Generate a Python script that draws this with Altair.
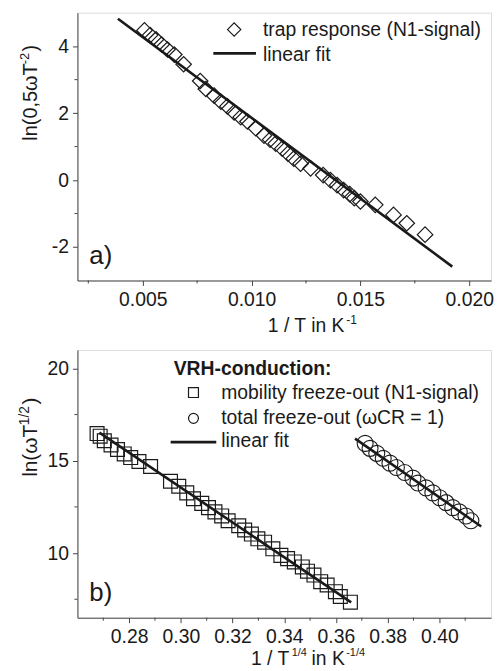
import altair as alt
import pandas as pd

FONT = "Liberation Sans"
INK = "#1a1a1a"
FRAME = "#444444"
FS = 19.5

# ---------------- panel a) data ----------------
a_x = [0.00508, 0.00534, 0.00561, 0.00587, 0.00614, 0.00645, 0.00688, 0.00764, 0.00790,
       0.00828, 0.00859, 0.00889, 0.00920, 0.00950, 0.00981, 0.01019, 0.01057, 0.01085,
       0.01111, 0.01141, 0.01167, 0.01194, 0.01225, 0.01271, 0.01329, 0.01362, 0.01393,
       0.01423, 0.01451, 0.01472, 0.01500, 0.01568, 0.01652, 0.01713, 0.01797]
a_y = [4.47, 4.33, 4.20, 4.05, 3.90, 3.75, 3.46, 2.96, 2.72,
       2.52, 2.34, 2.20, 2.02, 1.88, 1.75, 1.55, 1.33, 1.21,
       1.09, 0.94, 0.79, 0.64, 0.49, 0.35, 0.15, 0.00, -0.15,
       -0.30, -0.42, -0.54, -0.64, -0.74, -1.04, -1.29, -1.63]
a_fit_x = [0.00386, 0.01922]
a_fit_y = [4.82, -2.585]
a_xticks = [0.005, 0.010, 0.015, 0.020]
a_xminor = [0.0025, 0.0075, 0.0125, 0.0175]
a_yticks = [-2, 0, 2, 4]
a_yminor = [-1, 1, 3]

# ---------------- panel b) data ----------------
b_sq_x = [0.2676, 0.2688, 0.2704, 0.2730, 0.2755, 0.2781, 0.2806, 0.2838, 0.2883, 0.2960,
          0.2992, 0.3023, 0.3049, 0.3081, 0.3107, 0.3132, 0.3158, 0.3183, 0.3224, 0.3247,
          0.3273, 0.3298, 0.3324, 0.3356, 0.3387, 0.3413, 0.3439, 0.3470, 0.3490, 0.3515,
          0.3541, 0.3566, 0.3598, 0.3617, 0.3656]
b_sq_y = [16.47, 16.33, 16.08, 15.85, 15.61, 15.37, 15.17, 14.96, 14.69, 13.89,
          13.62, 13.26, 12.94, 12.69, 12.46, 12.23, 12.01, 11.75, 11.48, 11.25,
          11.03, 10.77, 10.59, 10.23, 9.875, 9.70, 9.52, 9.25, 9.02, 8.81,
          8.45, 8.27, 7.91, 7.65, 7.34]
b_ci_x = [0.3713, 0.3732, 0.3758, 0.3783, 0.3809, 0.3834, 0.3866, 0.3898, 0.3917,
          0.3949, 0.3975, 0.4001, 0.4026, 0.4052, 0.4077, 0.4103, 0.4122]
b_ci_y = [15.94, 15.67, 15.40, 15.13, 14.87, 14.63, 14.36, 14.06, 13.79,
          13.53, 13.26, 13.00, 12.73, 12.46, 12.23, 12.01, 11.75]
b_fit1_x = [0.2685, 0.3659]
b_fit1_y = [16.52, 7.33]
b_fit2_x = [0.3674, 0.4162]
b_fit2_y = [16.20, 11.44]
b_xticks = [0.28, 0.30, 0.32, 0.34, 0.36, 0.38, 0.40]
b_xminor = [0.27, 0.29, 0.31, 0.33, 0.35, 0.37, 0.39, 0.41]
b_yticks = [10, 15, 20]
b_yminor = [7.5, 12.5, 17.5]

W, H = 417, 270
one = pd.DataFrame({"t": [""]})


def label(txt, x, y, size=FS, angle=0, weight="normal"):
    return alt.Chart(pd.DataFrame({"t": [txt]})).mark_text(
        font=FONT, fontSize=size, angle=angle, fontWeight=weight,
        align="left", baseline="alphabetic", color=INK
    ).encode(text="t:N", x=alt.value(x), y=alt.value(y))


def sym(shape, x, y, size):
    return alt.Chart(one).mark_point(
        shape=shape, size=size, filled=False, stroke=INK, strokeWidth=1.2, opacity=1
    ).encode(x=alt.value(x), y=alt.value(y))


def legline(x1, x2, y):
    return alt.Chart(one).mark_rule(color=INK, strokeWidth=2.6).encode(
        x=alt.value(x1), x2=alt.value(x2), y=alt.value(y))


def encs(xdom, ydom, xticks, yticks, xexpr):
    xe = alt.X("x:Q", scale=alt.Scale(domain=xdom, nice=False, zero=False),
               axis=alt.Axis(values=xticks, labelExpr=xexpr, title=None, grid=False,
                             tickSize=5, labelPadding=5, labelFont=FONT, labelFontSize=FS,
                             labelColor=INK, tickColor=FRAME, domainColor=FRAME))
    ye = alt.Y("y:Q", scale=alt.Scale(domain=ydom, nice=False, zero=False),
               axis=alt.Axis(values=yticks, labelExpr="'' + datum.value", title=None,
                             grid=False, tickSize=5, labelPadding=4, labelFont=FONT,
                             labelFontSize=FS, labelColor=INK, tickColor=FRAME,
                             domainColor=FRAME))
    return xe, ye


def minor(xe, ye, xminor, yminor):
    mx = alt.Chart(pd.DataFrame({"x": xminor})).mark_rule(color=FRAME).encode(
        x=xe, y=alt.value(H), y2=alt.value(H + 3))
    my = alt.Chart(pd.DataFrame({"y": yminor})).mark_rule(color=FRAME).encode(
        y=ye, x=alt.value(0), x2=alt.value(-3))
    return mx, my


# ---------- panel a ----------
xa, ya = encs([0.002, 0.021], [-3, 5], a_xticks, a_yticks, "format(datum.value, '.3f')")
pts_a = alt.Chart(pd.DataFrame({"x": a_x, "y": a_y})).mark_point(
    shape="diamond", size=245, filled=False, stroke=INK, strokeWidth=1.2, opacity=1
).encode(x=xa, y=ya)
fit_a = alt.Chart(pd.DataFrame({"x": a_fit_x, "y": a_fit_y})).mark_line(
    color=INK, strokeWidth=2.6).encode(x=xa, y=ya)
mxa, mya = minor(xa, ya, a_xminor, a_yminor)

top = alt.layer(
    fit_a, pts_a, mxa, mya,
    sym("diamond", 158, 17, 180),
    label("trap response (N1-signal)", 187, 24),
    legline(137, 180, 41),
    label("linear fit", 187, 49),
    label("a)", 12, 253, size=26),
    # x title
    label("1 / T in K", 192, 322),
    label("-1", 271, 314, size=12),
    # y title (rotated)
    label("ln(0,5\u03c9T", -41, 129, size=20, angle=270),
    label("-2", -49, 52, size=13, angle=270),
    label(")", -41, 39, size=20, angle=270),
).properties(width=W, height=H)

# ---------- panel b ----------
xb, yb = encs([0.26, 0.42], [6.5, 21], b_xticks, b_yticks, "format(datum.value, '.2f')")
sq_b = alt.Chart(pd.DataFrame({"x": b_sq_x, "y": b_sq_y})).mark_point(
    shape="square", size=195, filled=False, stroke=INK, strokeWidth=1.2, opacity=1
).encode(x=xb, y=yb)
ci_b = alt.Chart(pd.DataFrame({"x": b_ci_x, "y": b_ci_y})).mark_point(
    shape="circle", size=260, filled=False, stroke=INK, strokeWidth=1.1, opacity=1
).encode(x=xb, y=yb)
fit_b = alt.Chart(pd.DataFrame({
    "x": b_fit1_x + b_fit2_x, "y": b_fit1_y + b_fit2_y,
    "g": ["1"] * len(b_fit1_x) + ["2"] * len(b_fit2_x)})).mark_line(
    color=INK, strokeWidth=2.6).encode(x=xb, y=yb, detail="g:N")
mxb, myb = minor(xb, yb, b_xminor, b_yminor)

bottom = alt.layer(
    sq_b, ci_b, fit_b, mxb, myb,
    label("VRH-conduction:", 97, 25, weight="bold"),
    sym("square", 117, 43, 100),
    label("mobility freeze-out (N1-signal)", 145, 49),
    sym("circle", 117, 69, 100),
    label("total freeze-out (\u03c9CR = 1)", 145, 75),
    legline(94, 140, 93),
    label("linear fit", 145, 98),
    label("b)", 12, 253, size=26),
    # x title
    label("1 / T", 175, 318),
    label("1/4", 216, 309, size=11),
    label("in K", 236, 318),
    label("-1/4", 271, 309, size=11),
    # y title (rotated)
    label("ln(\u03c9T", -41, 128, size=21, angle=270),
    label("1/2", -49, 76, size=14, angle=270),
    label(")", -41, 55, size=21, angle=270),
).properties(width=W, height=H)

chart = alt.vconcat(top, bottom, spacing=70, bounds="flush").properties(
    padding={"left": 9, "top": 1, "right": 0, "bottom": 0}
).configure_view(stroke=FRAME, strokeWidth=1).configure(font=FONT, background="white")

chart.save("out.html", embed_options={"renderer": "svg", "actions": False})
